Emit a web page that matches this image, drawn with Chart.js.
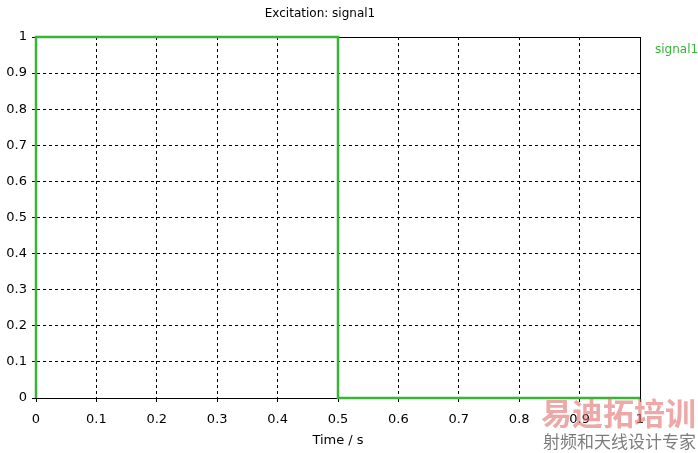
<!DOCTYPE html>
<html>
<head>
<meta charset="utf-8">
<title>Excitation: signal1</title>
<script src="https://cdn.jsdelivr.net/npm/chart.js@4/dist/chart.umd.min.js"></script>
<style>
    html, body { margin: 0; padding: 0; background: #ffffff; }
    #wrap { width: 698px; height: 453px; position: relative; }
</style>
</head>
<body>
<div id="wrap"><canvas id="grafico"></canvas></div>
<script>
const chartTitle = "Excitation: signal1";
const xAxisTitle = "Time / s";
const seriesName = "signal1";

// square pulse
const timeValues = [0, 0, 0.5, 0.5, 1];
const signalValues = [0, 1, 1, 0, 0];

const xTicks = [0, 0.1, 0.2, 0.3, 0.4, 0.5, 0.6, 0.7, 0.8, 0.9, 1];
const yTicks = [0, 0.1, 0.2, 0.3, 0.4, 0.5, 0.6, 0.7, 0.8, 0.9, 1];

const watermarkTop = "易迪拓培训";
const watermarkBottom = "射频和天线设计专家";

const green = "#36b536";
const fontFamily = "'DejaVu Sans', Verdana, sans-serif";

// frame round the plot area (axes only draw left and bottom)
const framePlugin = {
    id: 'frame',
    beforeDatasetsDraw(chart) {
        const a = chart.chartArea;
        const ctx = chart.ctx;
        ctx.save();
        ctx.strokeStyle = "#000000";
        ctx.lineWidth = 1;
        ctx.setLineDash([]);
        ctx.strokeRect(Math.round(a.left) + 0.5, Math.round(a.top) + 0.5,
            Math.round(a.right - a.left), Math.round(a.bottom - a.top));
        ctx.restore();
    }
};

// legend text at the right, and the watermark
const labelPlugin = {
    id: 'labels',
    afterDraw(chart) {
        const ctx = chart.ctx;
        const a = chart.chartArea;
        ctx.save();
        ctx.font = "12px " + fontFamily;
        ctx.fillStyle = green;
        ctx.textAlign = "left";
        ctx.textBaseline = "middle";
        ctx.fillText(chart.data.datasets[0].label, a.right + 15, 50);

        ctx.textAlign = "right";
        ctx.font = "bold 31px 'Noto Sans CJK SC'";
        ctx.fillStyle = "rgba(225, 110, 110, 0.6)";
        ctx.fillText(watermarkTop, 696, 413);
        ctx.font = "17px 'Noto Sans CJK SC'";
        ctx.fillStyle = "rgba(110, 110, 110, 0.9)";
        ctx.fillText(watermarkBottom, 696, 442);
        ctx.restore();
    }
};

const points = timeValues.map((t, i) => ({ x: t, y: signalValues[i] }));

const data = {
    datasets: [
        {
            label: seriesName,
            data: points,
            borderColor: green,
            backgroundColor: green,
            borderWidth: 2.5,
            pointRadius: 0,
            tension: 0,
            clip: 4,
        }
    ]
};

const gridCommon = {
    color: "#000000",
    lineWidth: 1,
    drawTicks: true,
    tickLength: 4,
    tickColor: "#000000",
    tickWidth: 1,
    tickBorderDash: [],
};

const borderCommon = { display: true, color: "#000000", width: 1, dash: [3, 3] };

const config = {
    type: 'line',
    data: data,
    options: {
        responsive: true,
        maintainAspectRatio: false,
        animation: false,
        layout: {
            padding: { left: 0, right: 58, top: 0, bottom: 0 }
        },
        plugins: {
            legend: { display: false },
            tooltip: { enabled: false },
            title: {
                display: true,
                text: chartTitle,
                color: "#000000",
                font: { family: fontFamily, size: 12, weight: 'normal' },
                padding: { top: 7, bottom: 15.6 },
            },
        },
        scales: {
            x: {
                type: 'linear',
                min: 0,
                max: 1,
                afterFit: scale => { scale.height = 55; },
                afterBuildTicks: scale => { scale.ticks = xTicks.map(v => ({ value: v })); },
                grid: gridCommon,
                border: borderCommon,
                ticks: {
                    color: "#000000",
                    font: { family: fontFamily, size: 13 },
                    padding: 10,
                    maxRotation: 0,
                    callback: v => String(v),
                },
                title: {
                    display: true,
                    text: xAxisTitle,
                    color: "#000000",
                    font: { family: fontFamily, size: 13 },
                    padding: { top: 0, bottom: 5 },
                },
            },
            y: {
                type: 'linear',
                min: 0,
                max: 1,
                afterFit: scale => { scale.width = 36; },
                afterBuildTicks: scale => { scale.ticks = yTicks.map(v => ({ value: v })); },
                grid: gridCommon,
                border: borderCommon,
                ticks: {
                    color: "#000000",
                    font: { family: fontFamily, size: 13 },
                    padding: 5,
                    callback: v => String(v),
                },
            },
        },
    },
    plugins: [framePlugin, labelPlugin],
};

let grafico = new Chart(document.getElementById('grafico'), config);
</script>
</body>
</html>
